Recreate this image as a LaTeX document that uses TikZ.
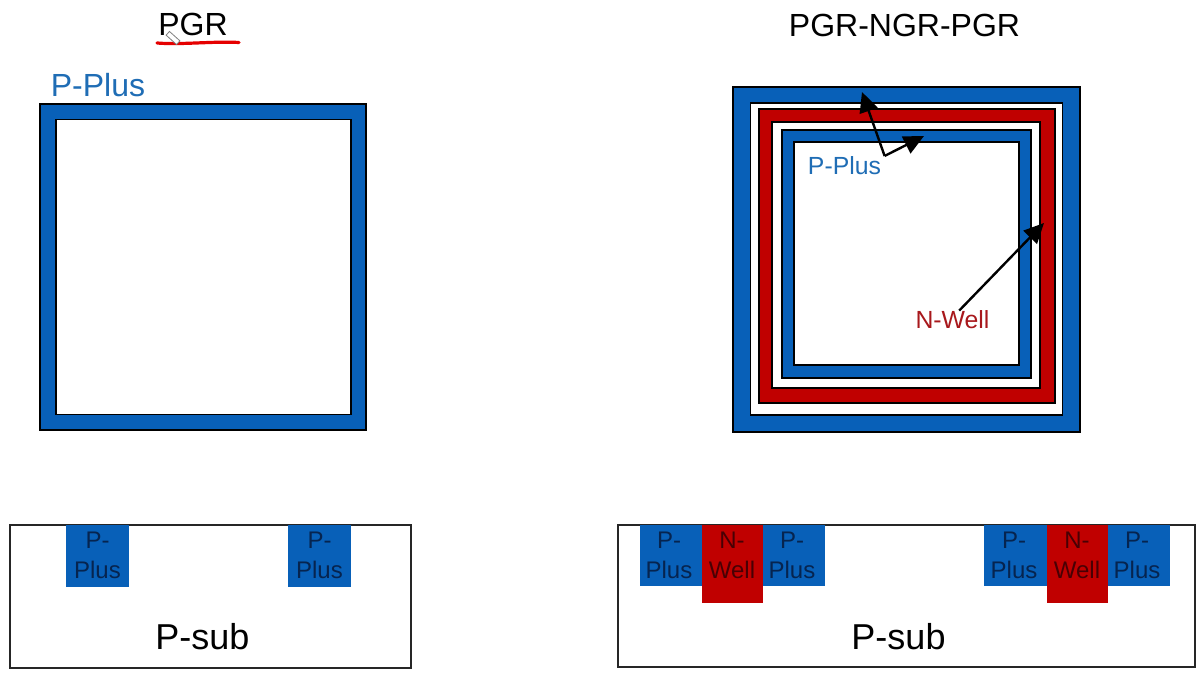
\documentclass[tikz,border=0pt]{standalone}
\usepackage{fontspec}
\setmainfont{Liberation Sans}
\usetikzlibrary{arrows.meta}
\definecolor{pblue}{HTML}{0860B8}
\definecolor{nred}{HTML}{C00000}
\definecolor{lblblue}{HTML}{1F6DB5}
\definecolor{lblred}{HTML}{A8181C}
\definecolor{ontoblue}{HTML}{06244F}
\definecolor{ontored}{HTML}{480004}
\tikzset{
  pxsize/.style 2 args={minimum width=#1*0.75pt,minimum height=#2*0.75pt},
  shape box/.style={draw=black,line width=1.4pt,inner sep=0pt,outer sep=0pt},
  blue ring/.style={shape box,fill=pblue},
  red ring/.style={shape box,fill=nred},
  white ring/.style={shape box,fill=white},
  sub box/.style={draw=black!85,line width=1.1pt,fill=white,inner sep=0pt},
  blue well/.style={fill=pblue,inner sep=0pt},
  red well/.style={fill=nred,inner sep=0pt},
  title text/.style={font=\fontsize{24}{28}\selectfont,inner sep=0pt},
  sub text/.style={font=\fontsize{27}{31}\selectfont,inner sep=0pt},
  blue label/.style={font=\fontsize{18.6}{22}\selectfont,text=lblblue,inner sep=1pt},
  red label/.style={font=\fontsize{18.6}{22}\selectfont,text=lblred,inner sep=1pt},
  well text/.style={font=\fontsize{18}{22.5}\selectfont,align=center,inner sep=0pt},
  pointer/.style={draw=black,line width=1.8pt,-{Triangle[length=15pt,width=14pt]}},
}
\begin{document}
\begin{tikzpicture}[x=0.75pt,y=-0.75pt]
\useasboundingbox (0,0) rectangle (1204,673);
\fill[white] (0,0) rectangle (1204,673);

% titles
\node[title text] (t1) at (193,24) {PGR};
\node[title text] (t2) at (904.5,25) {PGR-NGR-PGR};
\draw[red!90!black,line width=2.4pt,line cap=round] (157,43) .. controls (180,45) and (215,41) .. (239,42.5);
\draw[gray,line width=0.6pt,fill=white,rotate around={-42:(173,38)}] (166,35.5) rectangle (180,40.5);

% left ring
\node[blue label,font=\fontsize{24}{28}\selectfont] (l1) at (98,85) {P-Plus};
\node[blue ring,pxsize={326}{326}] (lo) at (203,267) {};
\node[white ring,pxsize={295}{295}] (li) at (203.5,267) {};

% right rings
\node[blue ring,pxsize={347}{345}] (r1) at (906.5,259.5) {};
\node[white ring,pxsize={312}{312}] (r2) at (906.5,259) {};
\node[red ring,pxsize={296}{294}] (r3) at (907,256) {};
\node[white ring,pxsize={268}{266}] (r4) at (906,255) {};
\node[blue ring,pxsize={249}{248}] (r5) at (906.5,254) {};
\node[white ring,pxsize={225}{223}] (r6) at (906.5,253.5) {};

% ring labels and arrows
\node[blue label] (pl) at (844.5,166) {P-Plus};
\node[red label] (nl) at (952.5,320) {N-Well};
\coordinate (ptop) at (862,92);
\coordinate (pin) at (924,136);
\coordinate (nt) at (1044,223);
\draw[pointer] ([xshift=1.5pt,yshift=-0.5pt]pl.north east) coordinate (apex) -- (ptop);
\draw[pointer] (apex) -- (pin);
\draw[pointer] ([xshift=5pt,yshift=-1pt]nl.north) -- (nt);

% left cross-section
\node[sub box,pxsize={401}{143}] (s1) at (210.5,596.5) {};
\node[blue well,pxsize={63}{62}] (a1) at (97.5,556) {};
\node[blue well,pxsize={63}{62}] (a2) at (319.5,556) {};
\node[well text,text=ontoblue] (a1t) at (97.5,555) {P-\\Plus};
\node[well text,text=ontoblue] (a2t) at (319.5,555) {P-\\Plus};
\node[sub text] (s1t) at (202.5,637) {P-sub};

% right cross-section
\node[sub box,pxsize={577}{142}] (s2) at (906.5,596) {};
\node[blue well,pxsize={63}{61}] (b1) at (671.5,555.5) {};
\node[blue well,pxsize={63}{61}] (b3) at (793.5,555.5) {};
\node[red well,pxsize={61}{78}] (b2) at (732,564) {};
\node[blue well,pxsize={63}{61}] (b4) at (1015.5,555.5) {};
\node[blue well,pxsize={63}{61}] (b6) at (1138.5,555.5) {};
\node[red well,pxsize={61}{78}] (b5) at (1077,564) {};
\node[well text,text=ontoblue] (b1t) at (669,555) {P-\\Plus};
\node[well text,text=ontored] (b2t) at (732,555) {N-\\Well};
\node[well text,text=ontoblue] (b3t) at (792,555) {P-\\Plus};
\node[well text,text=ontoblue] (b4t) at (1014,555) {P-\\Plus};
\node[well text,text=ontored] (b5t) at (1077,555) {N-\\Well};
\node[well text,text=ontoblue] (b6t) at (1137,555) {P-\\Plus};
\node[sub text] (s2t) at (898.5,637) {P-sub};
\end{tikzpicture}
\end{document}
